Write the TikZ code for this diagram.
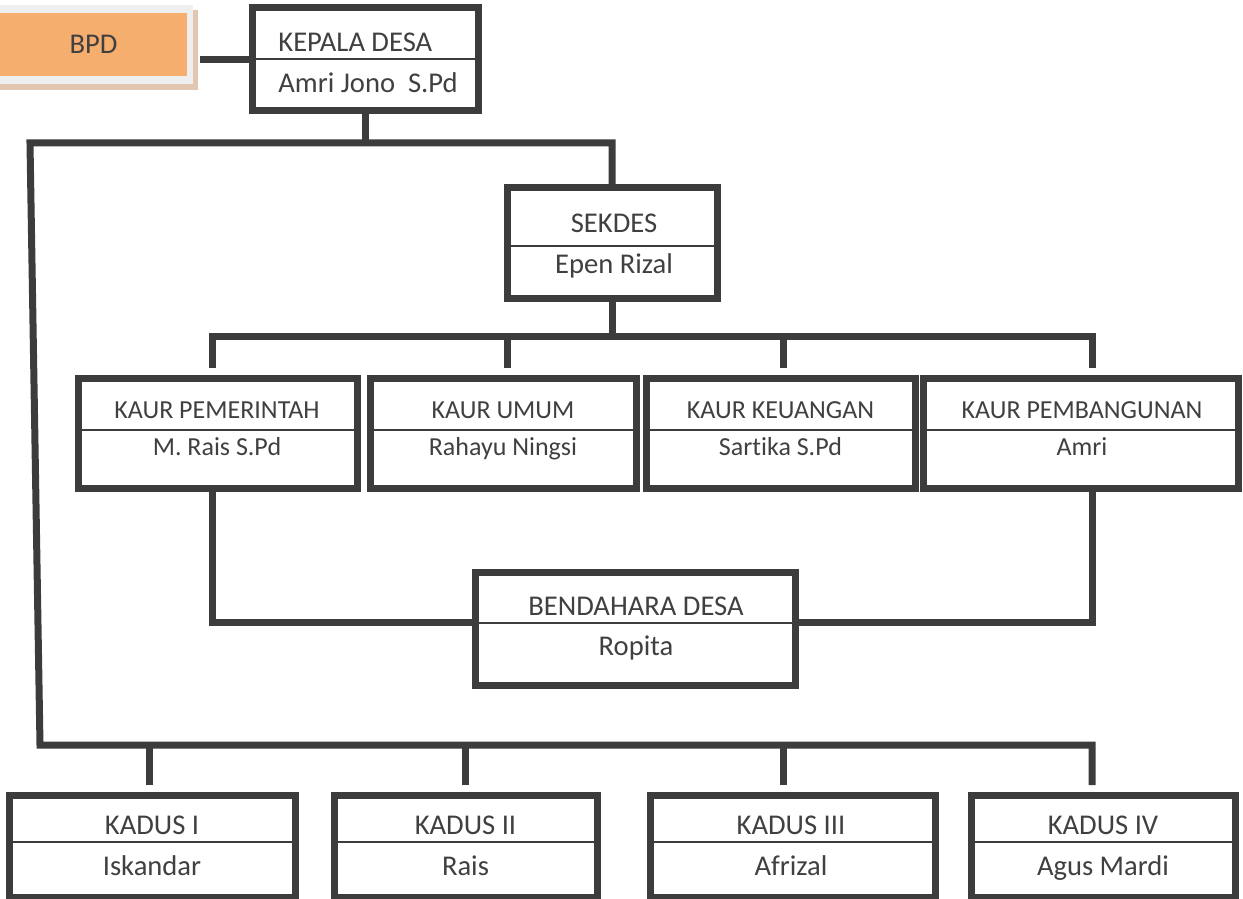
\documentclass[tikz,border=0pt]{standalone}
\usepackage{fontspec}
\setmainfont{Carlito}[Ligatures=NoCommon]
\usepackage{xcolor}
\usepackage{tikz}
\definecolor{garis}{HTML}{3C3C3C}
\definecolor{teks}{HTML}{404040}
\definecolor{oranye}{HTML}{F6AE6E}
\definecolor{bayang}{HTML}{E2C6B0}
\definecolor{bingkai}{HTML}{EFEFEF}
\tikzstyle{kotak} = [draw=garis, line width=3.5pt, outer sep=0pt, inner sep=0pt, fill=white]
\tikzstyle{sekat} = [draw=garis, line width=1pt]
\tikzstyle{hubung} = [draw=garis, line width=3.5pt]
\tikzstyle{judul} = [anchor=base, text=teks, inner sep=0pt, font=\fontsize{14.3pt}{17pt}\selectfont]
\tikzstyle{judulkecil} = [judul, font=\fontsize{13pt}{15pt}\selectfont]

\begin{document}
\begin{tikzpicture}[x=0.5pt, y=-0.5pt]
		\useasboundingbox (0,0) rectangle (1243,899);
		
		\fill[bayang] (0,10) rectangle (198,90);
		\fill[bingkai] (0,5) rectangle (193,84);
		\node (bpd) [fill=oranye, inner sep=0pt, minimum width=93.5pt, minimum height=31.5pt, text=teks, font=\fontsize{14.3pt}{17pt}\selectfont] at (93.5,44.5) {BPD};
		
		\node (kepala) [kotak, minimum width=113pt, minimum height=51.5pt] at (365,59.5) {};
		\draw [sekat] ([yshift=-25.5pt]kepala.north west) -- ([yshift=-25.5pt]kepala.north east);
		\node (kepalaj) [judul, anchor=base west] at (278,52) {KEPALA DESA};
		\node (kepalan) [judul, anchor=base west] at (278,93) {Amri Jono\ \ S.Pd};
		
		\node (sekdes) [kotak, minimum width=105pt, minimum height=55pt] at (612,243) {};
		\draw [sekat] ([yshift=-29pt]sekdes.north west) -- ([yshift=-29pt]sekdes.north east);
		\node (sekdesj) [judul] at (614,233) {SEKDES};
		\node (sekdesn) [judul] at (614,273) {Epen Rizal};
		
		\node (kaur1) [kotak, minimum width=139.5pt, minimum height=55pt] at (217.5,433) {};
		\draw [sekat] ([yshift=-26pt]kaur1.north west) -- ([yshift=-26pt]kaur1.north east);
		\node (kaur1j) [judulkecil] at (217,418) {KAUR PEMERINTAH};
		\node (kaur1n) [judulkecil] at (217,455) {M. Rais S.Pd};
		
		\node (kaur2) [kotak, minimum width=133pt, minimum height=55pt] at (503,433) {};
		\draw [sekat] ([yshift=-26pt]kaur2.north west) -- ([yshift=-26pt]kaur2.north east);
		\node (kaur2j) [judulkecil] at (503,418) {KAUR UMUM};
		\node (kaur2n) [judulkecil] at (503,455) {Rahayu Ningsi};
		
		\node (kaur3) [kotak, minimum width=134.5pt, minimum height=55pt] at (780.5,433) {};
		\draw [sekat] ([yshift=-26pt]kaur3.north west) -- ([yshift=-26pt]kaur3.north east);
		\node (kaur3j) [judulkecil] at (780.5,418) {KAUR KEUANGAN};
		\node (kaur3n) [judulkecil] at (780.5,455) {Sartika S.Pd};
		
		\node (kaur4) [kotak, minimum width=157.5pt, minimum height=55pt] at (1080.5,433) {};
		\draw [sekat] ([yshift=-26pt]kaur4.north west) -- ([yshift=-26pt]kaur4.north east);
		\node (kaur4j) [judulkecil] at (1082,418) {KAUR PEMBANGUNAN};
		\node (kaur4n) [judulkecil] at (1082,455) {Amri};
		
		\node (bendahara) [kotak, minimum width=160pt, minimum height=56.5pt] at (635,628.5) {};
		\draw [sekat] ([yshift=-25.5pt]bendahara.north west) -- ([yshift=-25.5pt]bendahara.north east);
		\node (bendaharaj) [judul] at (636,615) {BENDAHARA DESA};
		\node (bendaharan) [judul] at (636,655) {Ropita};
		
		\node (kadus1) [kotak, minimum width=143pt, minimum height=51pt] at (152,846) {};
		\draw [sekat] ([yshift=-23.5pt]kadus1.north west) -- ([yshift=-23.5pt]kadus1.north east);
		\node (kadus1j) [judul] at (152,834) {KADUS I};
		\node (kadus1n) [judul] at (152,875) {Iskandar};
		
		\node (kadus2) [kotak, minimum width=131.5pt, minimum height=51pt] at (465.5,846) {};
		\draw [sekat] ([yshift=-23.5pt]kadus2.north west) -- ([yshift=-23.5pt]kadus2.north east);
		\node (kadus2j) [judul] at (465.5,834) {KADUS II};
		\node (kadus2n) [judul] at (465.5,875) {Rais};
		
		\node (kadus3) [kotak, minimum width=142.5pt, minimum height=51pt] at (792.5,846) {};
		\draw [sekat] ([yshift=-23.5pt]kadus3.north west) -- ([yshift=-23.5pt]kadus3.north east);
		\node (kadus3j) [judul] at (791,834) {KADUS III};
		\node (kadus3n) [judul] at (791,875) {Afrizal};
		
		\node (kadus4) [kotak, minimum width=132pt, minimum height=51pt] at (1103,846) {};
		\draw [sekat] ([yshift=-23.5pt]kadus4.north west) -- ([yshift=-23.5pt]kadus4.north east);
		\node (kadus4j) [judul] at (1103,834) {KADUS IV};
		\node (kadus4n) [judul] at (1103,875) {Agus Mardi};
		
		\coordinate (bpdkanan) at ([xshift=6.5pt]bpd.east);
		\coordinate (kiriatas) at (30,143);
		\coordinate (kiribawah) at (40,745);
		\coordinate (tengah) at (612,336);
		\coordinate (t1) at ([xshift=-2.75pt,yshift=5pt]kaur1.north);
		\coordinate (t2) at ([xshift=2pt,yshift=5pt]kaur2.north);
		\coordinate (t3) at ([xshift=1.25pt,yshift=5pt]kaur3.north);
		\coordinate (t4) at ([xshift=5.75pt,yshift=5pt]kaur4.north);
		\coordinate (d1) at ([xshift=-1.5pt,yshift=5pt]kadus1.north);
		\coordinate (d2) at ([yshift=5pt]kadus2.north);
		\coordinate (d3) at ([xshift=-4.75pt,yshift=5pt]kadus3.north);
		\coordinate (d4) at ([xshift=-5.5pt,yshift=5pt]kadus4.north);
		
		\draw [hubung] (kepala.west) -- (bpdkanan |- kepala.west);
		\draw [hubung] (kepala.south) -- (kepala.south |- kiriatas);
		\draw [hubung] (sekdes.north) |- (kiriatas) -- (kiribawah) -| (d4);
		\draw [hubung] (d1) -- (d1 |- kiribawah);
		\draw [hubung] (d2) -- (d2 |- kiribawah);
		\draw [hubung] (d3) -- (d3 |- kiribawah);
		
		\draw [hubung] (sekdes.south) -- (tengah);
		\draw [hubung] (t1) |- (tengah) -| (t4);
		\draw [hubung] (t2) -- (t2 |- tengah);
		\draw [hubung] (t3) -- (t3 |- tengah);
		
		\draw [hubung] ([xshift=-2.75pt]kaur1.south) |- ([yshift=3.25pt]bendahara.west);
		\draw [hubung] ([xshift=5.75pt]kaur4.south) |- ([yshift=3.25pt]bendahara.east);
	\end{tikzpicture}
\end{document}
